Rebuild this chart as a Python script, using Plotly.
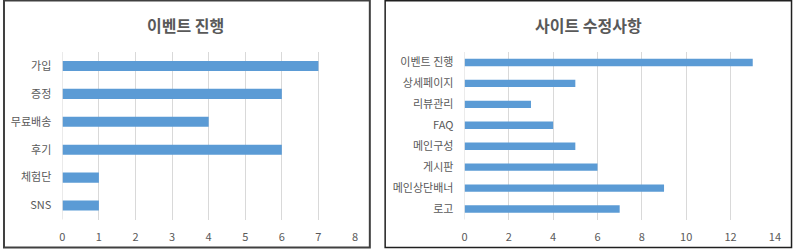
import plotly.graph_objects as go

W, H = 800, 249

left_title = "이벤트 진행"
left_cats = ["가입", "증정", "무료배송", "후기", "체험단", "SNS"]
left_vals = [7, 6, 4, 6, 1, 1]
left_ticks = [0, 1, 2, 3, 4, 5, 6, 7, 8]

right_title = "사이트 수정사항"
right_cats = ["이벤트 진행", "상세페이지", "리뷰관리", "FAQ", "메인구성", "게시판", "메인상단배너", "로고"]
right_vals = [13, 5, 3, 4, 5, 6, 9, 7]
right_ticks = [0, 2, 4, 6, 8, 10, 12, 14]

BAR = "#5b9bd5"
GRID = "#d9d9d9"
TXT = "#595959"
FONT = "Noto Sans CJK KR"

def px(x):
    return x / W

def py(y):
    return 1 - y / H

fig = go.Figure()
fig.add_trace(go.Bar(x=left_vals, y=left_cats, orientation="h", marker=dict(color=BAR, line=dict(width=0)),
                     width=0.36, xaxis="x", yaxis="y", showlegend=False))
fig.add_trace(go.Bar(x=right_vals, y=right_cats, orientation="h", marker=dict(color=BAR, line=dict(width=0)),
                     width=0.35, xaxis="x2", yaxis="y2", showlegend=False))

plot_top, plot_bot = 52, 219.5
tickfont = dict(family=FONT, size=11, color=TXT)

xcommon = dict(showgrid=True, gridcolor=GRID, gridwidth=1, zeroline=False, showline=False,
               ticks="", tickfont=tickfont, ticklabelstandoff=9, fixedrange=True)
ycommon = dict(showgrid=False, zeroline=False, showline=False, ticks="", tickfont=tickfont,
               ticklabelstandoff=10, autorange="reversed", type="category")

fig.update_layout(
    width=W, height=H,
    margin=dict(l=0, r=0, t=0, b=0),
    paper_bgcolor="white", plot_bgcolor="white",
    font=dict(family=FONT, color=TXT),
    xaxis=dict(domain=[px(60), px(356)], range=[0, 8], tickvals=left_ticks, anchor="y", **xcommon),
    yaxis=dict(domain=[py(plot_bot), py(plot_top)], anchor="x", **ycommon),
    xaxis2=dict(domain=[px(466.7), px(780.7)], range=[0, 14], tickvals=right_ticks, anchor="y2", **xcommon),
    yaxis2=dict(domain=[py(plot_bot), py(plot_top)], anchor="x2", **ycommon),
    bargap=0.64,
    shapes=[
        dict(type="rect", xref="paper", yref="paper", x0=px(1), x1=px(371), y0=py(247.5), y1=py(0.5),
             line=dict(color="#404040", width=2), fillcolor="rgba(0,0,0,0)"),
        dict(type="rect", xref="paper", yref="paper", x0=px(386.5), x1=px(797.5), y0=py(247.5), y1=py(0.8),
             line=dict(color="#202020", width=1.5), fillcolor="rgba(0,0,0,0)"),
        dict(type="line", xref="x", yref="paper", x0=0, x1=0, y0=py(plot_bot), y1=py(plot_top),
             line=dict(color=GRID, width=1)),
        dict(type="line", xref="x2", yref="paper", x0=0, x1=0, y0=py(plot_bot), y1=py(plot_top),
             line=dict(color=GRID, width=1)),
    ],
    annotations=[
        dict(text="<b>" + left_title + "</b>", x=px(185), y=py(25), xref="paper", yref="paper",
             showarrow=False, font=dict(family=FONT, size=16, color=TXT), xanchor="center", yanchor="middle"),
        dict(text="<b>" + right_title + "</b>", x=px(592), y=py(25), xref="paper", yref="paper",
             showarrow=False, font=dict(family=FONT, size=16, color=TXT), xanchor="center", yanchor="middle"),
    ],
)

fig.write_html("out.html")
